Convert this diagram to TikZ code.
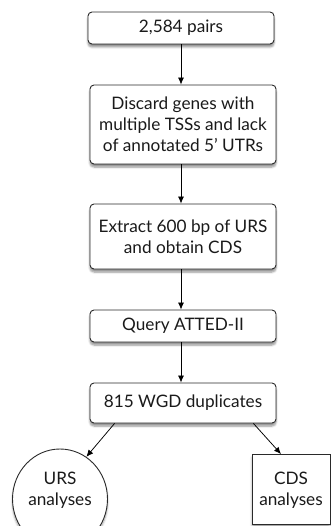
\documentclass[tikz,border=0pt]{standalone}
\usepackage{fontspec}
\setmainfont{Lato}
\usetikzlibrary{shapes.geometric,shadows.blur,arrows.meta,calc}
\definecolor{edge}{HTML}{2A2A2A}
\definecolor{ink}{HTML}{1A1A1A}
\tikzset{
  txt/.style={align=center, text=ink, inner sep=0pt, font=\fontsize{17.2}{21}\selectfont},
  stage/.style={txt, draw=edge, line width=0.9pt, fill=white, rounded corners=4pt,
    minimum width=186pt,
    blur shadow={shadow xshift=0pt, shadow yshift=-3pt, shadow blur steps=6, shadow opacity=45}},
  result/.style={draw=edge, line width=0.9pt, fill=white, inner sep=0pt,
    blur shadow={shadow xshift=0pt, shadow yshift=-3pt, shadow blur steps=6, shadow opacity=35}},
  flow/.style={draw=black, line width=0.75pt, -{Latex[length=7pt,width=6pt]}}
}
\begin{document}
\begin{tikzpicture}[x=1pt,y=-1pt]
\useasboundingbox (0,0) rectangle (330,526);
\node[stage, minimum height=32pt] (b1) at (181,28) {2,584 pairs};
\node[stage, minimum height=79pt] (b2) at (183,124.5) {Discard genes with\\multiple TSSs and lack\\of annotated 5' UTRs};
\node[stage, minimum height=65pt] (b3) at (183,236.5) {Extract 600 bp of URS\\and obtain CDS};
\node[stage, minimum height=32pt] (b4) at (183,326) {Query ATTED-II};
\node[stage, minimum height=40pt] (b5) at (183,403) {815 WGD duplicates};
% outcome shapes, with their captions set a little above centre
\node[result, ellipse, minimum width=95pt, minimum height=100pt] (urs) at (60,499) {};
\node[txt] (urslabel) at (60,490) {URS\\analyses};
\node[result, rectangle, minimum width=78pt, minimum height=70pt] (cds) at (291,489.5) {};
\node[txt] (cdslabel) at (291,490) {CDS\\analyses};

\draw[flow] (b1.south) -- (b1.south |- b2.north);
\draw[flow] (b1.south |- b2.south) -- (b1.south |- b3.north);
\draw[flow] (b1.south |- b3.south) -- (b1.south |- b4.north);
\draw[flow] (b1.south |- b4.south) -- (b1.south |- b5.north);
\draw[flow] ($(b5.south west)+(25,0)$) -- (urs.58);
\draw[flow] ($(b5.south east)+(-23,0)$) -- ($(cds.north)+(-10,0)$);
\end{tikzpicture}
\end{document}
